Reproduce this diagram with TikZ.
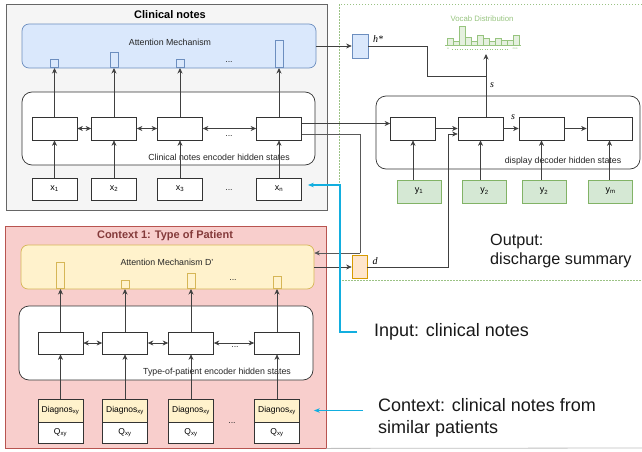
\documentclass[tikz,border=0pt]{standalone}
\usepackage{fontspec}
\setmainfont{Liberation Sans}
\newfontfamily\lserif{Liberation Serif}
\usetikzlibrary{positioning,arrows.meta,calc}
\definecolor{notegray}{HTML}{F5F5F5}
\definecolor{noteedge}{HTML}{666666}
\definecolor{attblue}{HTML}{DAE8FC}
\definecolor{attblueedge}{HTML}{6C8EBF}
\definecolor{ctxred}{HTML}{F8CECC}
\definecolor{ctxrededge}{HTML}{B85450}
\definecolor{ctxtitle}{HTML}{843A3A}
\definecolor{attyel}{HTML}{FFF2CC}
\definecolor{attyeledge}{HTML}{D6B656}
\definecolor{decgreen}{HTML}{D5E8D4}
\definecolor{decgreenedge}{HTML}{82B366}
\definecolor{dorange}{HTML}{FFE6CC}
\definecolor{dorangeedge}{HTML}{D79B00}
\definecolor{pointer}{HTML}{12AEDF}
\definecolor{vocabgreen}{HTML}{97C47F}
\newcommand{\fsz}[1]{\fontsize{#1}{1.2\dimexpr#1pt\relax}\selectfont}
\tikzset{
  panel/.style={inner sep=0pt, line width=0.8pt},
  frame/.style={draw=black!80, fill=white, rounded corners=10pt, inner sep=0pt, line width=0.7pt},
  cell/.style={draw=black!80, fill=white, inner sep=0pt, minimum width=45pt,
    minimum height=23pt, line width=0.7pt, font=\fsz{9}},
  att/.style={rounded corners=7pt, inner sep=0pt, line width=0.7pt},
  bar/.style={inner sep=0pt, minimum width=8pt, line width=0.7pt, anchor=south},
  small/.style={font=\fsz{8.8}, text=black!85, inner sep=0pt},
  ttl/.style={font=\fsz{11}\bfseries, inner sep=0pt},
  big/.style={font=\fsz{18}, inner sep=0pt, align=left, text=black!90},
  lbl/.style={font=\fsz{10}\lserif\itshape, inner sep=0pt},
  flow/.style={-{Stealth[length=5.5pt,width=5pt]}, line width=0.7pt, draw=black!75},
  biflow/.style={{Stealth[length=5.5pt,width=5pt]}-{Stealth[length=5.5pt,width=5pt]},
    line width=0.7pt, draw=black!75},
  link/.style={line width=0.7pt, draw=black!75},
  pointerarr/.style={-{Stealth[length=6pt,width=4.5pt]}, line width=1.4pt, draw=pointer},
  zone/.style={draw=decgreenedge!80, line width=0.6pt, dash pattern=on 1.5pt off 1.5pt},
}

\begin{document}
\begin{tikzpicture}[x=1pt, y=-1pt]
    \useasboundingbox (0,0) rectangle (642,452);
    % clinical notes panel
    \node[panel, draw=noteedge, fill=notegray, minimum width=321pt, minimum height=206pt] (clin) at (166.5,107) {};
    \node[ttl] (clintitle) at (170,15) {Clinical notes};
    \node[att, fill=attblue, draw=attblueedge, minimum width=294pt, minimum height=44pt] (attc) at (169,46) {};
    \node[small] (attclab) at (170,42) {Attention Mechanism};
    \foreach \i/\x/\h in {1/54.5/8, 2/114/15, 3/180/8, 4/279/27}
      \node[bar, fill=attblue, draw=attblueedge, minimum height=\h pt] (ac\i) at (\x,68) {};
    \node[small] (attcdots) at (229,62) {...};
    \node[frame, minimum width=293pt, minimum height=73pt] (encc) at (168.5,128.5) {};
    \foreach \i/\x in {1/54.5, 2/114, 3/180, 4/279}
      \node[cell] (hc\i) at (\x,128.5) {};
    \node[small] (enccdots) at (229,136) {...};
    \node[small] (encclab) at (219,157) {Clinical notes encoder hidden states};
    \foreach \i/\x/\s in {1/54.5/1, 2/114/2, 3/180/3, 4/279/n}
      \node[cell, minimum height=22pt] (xc\i) at (\x,189) {x\textsubscript{\s}};
    \node[small] (xcdots) at (229,190) {...};
    \foreach \i in {1,...,4} {
      \draw[flow] (xc\i) -- (hc\i);
      \draw[flow] (hc\i) -- (ac\i.south);
    }
    \draw[biflow] (hc1) -- (hc2);
    \draw[biflow] (hc2) -- (hc3);
    \draw[biflow] (hc3) -- (hc4);

    % context panel
    \node[panel, draw=ctxrededge, fill=ctxred, minimum width=321pt, minimum height=222pt] (ctxp) at (165.5,337) {};
    \node[ttl, text=ctxtitle] (ctxtitle) at (165,236) {Context 1: Type of Patient};
    \node[att, fill=attyel, draw=attyeledge, minimum width=293pt, minimum height=44pt] (attd) at (167.5,267) {};
    \node[small] (attdlab) at (167,262) {Attention Mechanism D'};
    \foreach \i/\x/\h in {1/60.5/26, 2/125/8, 3/191/15, 4/277/12}
      \node[bar, fill=attyel, draw=attyeledge, minimum height=\h pt] (ad\i) at (\x,289) {};
    \node[small] (attddots) at (233,280) {...};
    \node[frame, minimum width=294pt, minimum height=74pt] (encd) at (166,343) {};
    \foreach \i/\x in {1/60.5, 2/125, 3/191, 4/277}
      \node[cell, minimum height=22pt] (pd\i) at (\x,343) {};
    \node[small] (encddots) at (235,347) {...};
    \node[small] (encdlab) at (217,372) {Type-of-patient encoder hidden states};
    \foreach \i/\x in {1/60.5, 2/125, 3/191, 4/277} {
      \node[cell, fill=attyel, font=\fsz{8.5}] (dg\i) at (\x,410.5) {Diagnos\textsubscript{xy}};
      \node[cell, minimum height=21pt, font=\fsz{8.5}] (qd\i) at (\x,432.5) {Q\textsubscript{xy}};
    }
    \node[small] (qddots) at (232,423) {...};
    \foreach \i in {1,...,4} {
      \draw[flow] (dg\i) -- (pd\i);
      \draw[flow] (pd\i) -- (ad\i.south);
    }
    \draw[biflow] (pd1) -- (pd2);
    \draw[biflow] (pd2) -- (pd3);
    \draw[biflow] (pd3) -- (pd4);
    \draw[black!25, line width=0.8pt] (ctxp.south east) -- (642,448);

    % decoder side
    \draw[zone] (642,4) -| (339,280) -- (642,280);
    \node[cell, fill=attblue, draw=attblueedge, minimum width=16pt, minimum height=24pt] (hstar) at (360,46) {};
    \node[lbl] (hstarlab) at (378,39) {h*};
    \node[frame, minimum width=264pt, minimum height=73pt] (decf) at (508,132.5) {};
    \foreach \i/\x in {1/413, 2/480.5, 3/541.5, 4/609.5}
      \node[cell] (dc\i) at (\x,128.5) {};
    \node[small] (decflab) at (563,161) {display decoder hidden states};
    \foreach \i/\x/\s in {1/419/1, 2/484.5/2, 3/544/2, 4/610.5/m}
      \node[cell, fill=decgreen, draw=decgreenedge, minimum width=44pt] (yc\i) at (\x,191.5) {y\textsubscript{\s}};
    \foreach \i in {1,...,4}
      \draw[flow] (dc\i |- yc\i.north) -- (dc\i.south);
    \draw[flow] (dc1) -- (dc2);
    \draw[flow] (dc2) -- (dc3);
    \draw[flow] (dc3) -- (dc4);
    \node[lbl] (slab) at (513,117) {s};
    % vocab distribution
    \node[font=\fsz{7.8}, text=vocabgreen, inner sep=0pt] (vocab) at (482,19) {Vocab Distribution};
    \foreach \h [count=\k from 0] in {7,4,19,8,4,10,7,4,7,5,5,10}
      \draw[draw=vocabgreen, fill=vocabgreen!25, line width=0.5pt] (447+6*\k,45) rectangle ++(6,-\h);
    \draw[vocabgreen, line width=0.5pt] (445,45) -- (521,45);
    \draw[vocabgreen, dotted, line width=0.5pt] (452,49) -- (509,49);
    \node[font=\fsz{3}, text=vocabgreen, inner sep=0pt] (vocfirst) at (448,49) {a};
    \node[font=\fsz{3}, text=vocabgreen, inner sep=0pt] (voclast) at (515,49) {zoo};
    \coordinate (vocin) at (486,54);
    \coordinate (sjoin) at (486,76);
    \draw[flow] (dc2.north -| vocin) -- (vocin);
    \draw[link] (hstar.east) -| (427,76) -- (sjoin);
    \node[lbl] (vslab) at (492,85) {s};
    \draw[flow] (attc.east) -- (hstar.west);

    % encoder to decoder links
    \draw[flow] ([yshift=5pt]hc4.east) -- ([yshift=5pt]dc1.west);
    \coordinate (drop) at (360,253);
    \draw[link, draw=black!65] ([yshift=-5.5pt]hc4.east) -| (drop);
    \draw[flow, draw=black!65] (drop) -- (drop -| attd.east);
    \node[cell, fill=dorange, draw=dorangeedge, minimum width=15pt, minimum height=23pt] (dbox) at (359.5,267) {};
    \node[lbl] (dlab) at (375,261) {d};
    \draw[flow] (attd.east) -- (dbox.west);
    \draw[flow] (dbox.east) -| ([xshift=-9pt,yshift=-5.5pt]dc2.west) -- ([yshift=-5.5pt]dc2.west);

    % pointers and captions
    \node[big, anchor=west, font=\fsz{16.2}] (outlab) at (490,251) {Output:\\discharge summary};
    \node[big, anchor=west] (inplab) at (374,332) {Input: clinical notes};
    \node[big, anchor=west] (ctxlab) at (378,418) {Context: clinical notes from\\similar patients};
    \coordinate (inptail) at (357,332);
    \coordinate (ctxtail) at (363,410.5);
    \draw[pointerarr] (inptail) -- ++(-17,0) |- ([xshift=6pt,yshift=4pt]xc4.east);
    \draw[pointerarr] (ctxtail) -- ([xshift=14pt]dg4.east);
\end{tikzpicture}
\end{document}
